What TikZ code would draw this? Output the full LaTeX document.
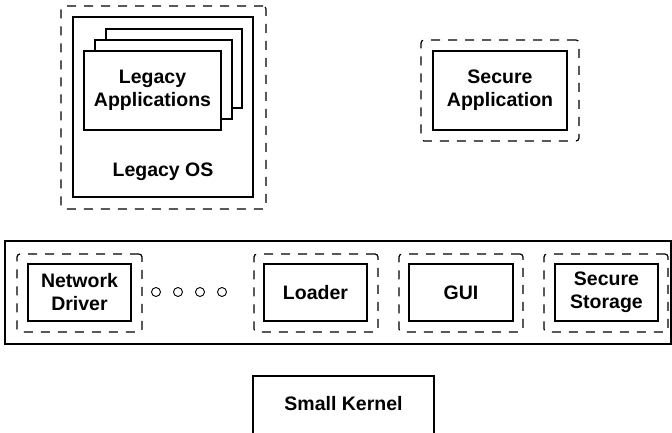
\documentclass[tikz,border=0pt]{standalone}
\usepackage{fontspec}
\setmainfont{Liberation Sans}
\begin{document}
\begin{tikzpicture}[x=1pt,y=-1pt,
  solidbox/.style={draw=black, line width=1.4pt, fill=white, inner sep=0pt},
  dashbox/.style={draw=black, line width=1.2pt, dash pattern=on 9pt off 8pt, rounded corners=3pt, inner sep=0pt},
  lbl/.style={font=\fontsize{19.5}{23}\selectfont\bfseries, align=center, inner sep=0pt},
  dot/.style={circle, draw=black, line width=0.9pt, minimum size=9pt, inner sep=0pt}]
\useasboundingbox (0,0) rectangle (672,433);
% Legacy OS group
\node[dashbox, minimum width=205pt, minimum height=203pt] (legdash) at (163.5,107.5) {};
\node[solidbox, minimum width=180pt, minimum height=180pt] (legos) at (163,107) {};
\node[solidbox, minimum width=136pt, minimum height=79pt] (page3) at (174,68.5) {};
\node[solidbox, minimum width=137pt, minimum height=79pt] (page2) at (163.5,79.5) {};
\node[solidbox, minimum width=137pt, minimum height=79pt] (page1) at (152.5,90.5) {};
\node[lbl] (legapp) at (152.5,90.5) {Legacy\\Applications};
\node[lbl] (legoslbl) at (163,172) {Legacy OS};
% Secure application
\node[dashbox, minimum width=158pt, minimum height=101pt] (secdash) at (500,90.5) {};
\node[solidbox, minimum width=134pt, minimum height=79pt, lbl] (secapp) at (500,90.5) {Secure\\Application};
% Bar
\node[draw=black, line width=1.4pt, inner sep=0pt, minimum width=666pt, minimum height=103pt] (bar) at (338,292.5) {};
\node[dashbox, minimum width=125pt, minimum height=78pt] (netdash) at (79.5,293) {};
\node[solidbox, lbl, minimum width=103pt, minimum height=57pt] (net) at (79.5,292.5) {Network\\Driver};
\node[dot] (d1) at (156,292) {};
\node[dot] (d2) at (178,292) {};
\node[dot] (d3) at (200,292) {};
\node[dot] (d4) at (222,292) {};
\node[dashbox, minimum width=124pt, minimum height=78pt] (loaddash) at (316,293) {};
\node[solidbox, lbl, minimum width=103pt, minimum height=57pt] (loader) at (315.5,292.5) {Loader};
\node[dashbox, minimum width=124pt, minimum height=78pt] (guidash) at (461,293) {};
\node[solidbox, lbl, minimum width=104pt, minimum height=57pt] (gui) at (461,292.5) {GUI};
\node[dashbox, minimum width=124pt, minimum height=78pt] (stordash) at (606,293) {};
\node[solidbox, lbl, minimum width=103pt, minimum height=57pt] (stor) at (606.5,292.5) {Secure\\Storage};
% Kernel
\node[solidbox, minimum width=181pt, minimum height=64pt] (kernel) at (343.5,408) {};
\node[lbl] (kerneltext) at (343.5,404) {Small Kernel};
\end{tikzpicture}
\end{document}
